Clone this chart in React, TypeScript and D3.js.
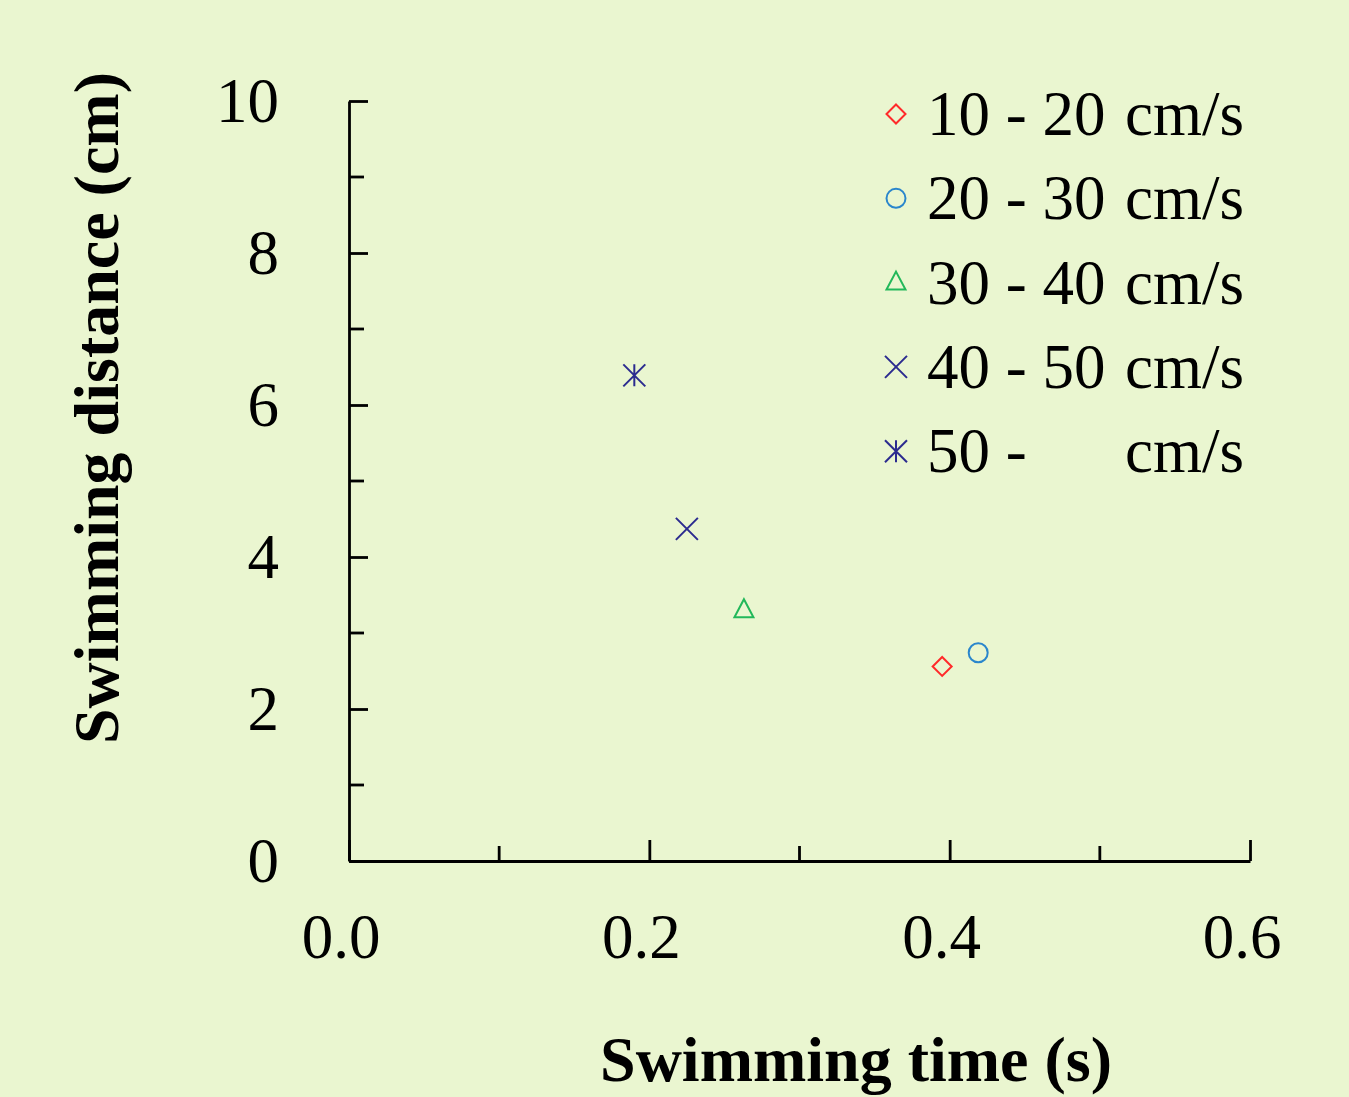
import React, { useEffect, useRef } from 'react';
import * as d3 from 'd3';

// speed classes (legend), their markers and colours
const groups = ['10 - 20', '20 - 30', '30 - 40', '40 - 50', '50 - '];
const shapes = ['diamond', 'circle', 'triangle', 'cross', 'asterisk'];
const colors = ['#ff2a2a', '#2a86cc', '#22b85a', '#2b2b8f', '#2b2b8f'];

// one point per speed class: swimming time (s), swimming distance (cm)
const times = [0.395, 0.419, 0.263, 0.225, 0.19];
const distances = [2.56, 2.74, 3.3, 4.37, 6.39];

const xTicks = [0, 0.2, 0.4, 0.6];
const xMinor = [0.1, 0.3, 0.5];
const yTicks = [0, 2, 4, 6, 8, 10];
const yMinor = [1, 3, 5, 7, 9];

const W = 1349;
const H = 1097;
const BG = '#eaf6d0';
const FONT = '"Liberation Serif", "Times New Roman", serif';

// marker outline centred on 0,0
function markerPath(shape: string) {
  const p = d3.path();
  if (shape === 'diamond') {
    const r = 9.5;
    p.moveTo(0, -r); p.lineTo(r, 0); p.lineTo(0, r); p.lineTo(-r, 0); p.closePath();
  } else if (shape === 'circle') {
    p.moveTo(9.5, 0); p.arc(0, 0, 9.5, 0, Math.PI * 2);
  } else if (shape === 'triangle') {
    p.moveTo(0, -11); p.lineTo(9.5, 7); p.lineTo(-9.5, 7); p.closePath();
  } else if (shape === 'cross') {
    const r = 11;
    p.moveTo(-r, -r); p.lineTo(r, r); p.moveTo(r, -r); p.lineTo(-r, r);
  } else {
    const r = 11;
    p.moveTo(-r, -r); p.lineTo(r, r); p.moveTo(r, -r); p.lineTo(-r, r);
    p.moveTo(0, -r); p.lineTo(0, r);
  }
  return p.toString();
}

const App = () => {
  const svgRef = useRef<SVGSVGElement>(null);

  useEffect(() => {
    const svg = d3.select(svgRef.current);
    svg.selectAll('*').remove();

    svg.append('rect').attr('width', W).attr('height', H).attr('fill', BG);

    const xScale = d3.scaleLinear().domain([0, 0.6]).range([349, 1250]);
    const yScale = d3.scaleLinear().domain([0, 10]).range([861, 101]);

    // y axis, ticks pointing inward
    const yAxis = svg.append('g')
      .attr('transform', `translate(${xScale(0)},0)`)
      .call(d3.axisLeft(yScale).tickValues(yTicks).tickSizeInner(-19).tickSizeOuter(0).tickFormat(() => ''));
    yAxis.selectAll('line, path').attr('stroke', '#000').attr('stroke-width', 2.8);
    yAxis.selectAll('.minor')
      .data(yMinor)
      .enter()
      .append('line')
      .attr('x1', 0)
      .attr('x2', 15)
      .attr('y1', d => yScale(d))
      .attr('y2', d => yScale(d))
      .attr('stroke', '#000')
      .attr('stroke-width', 2.8);

    // x axis, ticks pointing inward
    const xAxis = svg.append('g')
      .attr('transform', `translate(0,${yScale(0)})`)
      .call(d3.axisBottom(xScale).tickValues(xTicks).tickSizeInner(-21).tickSizeOuter(0).tickFormat(() => ''));
    xAxis.selectAll('line, path').attr('stroke', '#000').attr('stroke-width', 2.8);
    xAxis.selectAll('.minor')
      .data(xMinor)
      .enter()
      .append('line')
      .attr('x1', d => xScale(d))
      .attr('x2', d => xScale(d))
      .attr('y1', 0)
      .attr('y2', -15)
      .attr('stroke', '#000')
      .attr('stroke-width', 2.8);

    // tick labels
    svg.append('g')
      .selectAll('text')
      .data(yTicks)
      .enter()
      .append('text')
      .attr('x', 279)
      .attr('y', d => yScale(d) + 21)
      .attr('text-anchor', 'end')
      .style('font-family', FONT)
      .style('font-size', '63px')
      .text(d => d);

    svg.append('g')
      .selectAll('text')
      .data(xTicks)
      .enter()
      .append('text')
      .attr('x', d => xScale(d) - 8)
      .attr('y', 958)
      .attr('text-anchor', 'middle')
      .style('font-family', FONT)
      .style('font-size', '63px')
      .text(d => d.toFixed(1));

    // axis titles
    svg.append('text')
      .attr('x', 856)
      .attr('y', 1081)
      .attr('text-anchor', 'middle')
      .style('font-family', FONT)
      .style('font-weight', 'bold')
      .style('font-size', '64px')
      .text('Swimming time (s)');

    svg.append('text')
      .attr('transform', 'translate(118,408) rotate(-90)')
      .attr('text-anchor', 'middle')
      .style('font-family', FONT)
      .style('font-weight', 'bold')
      .style('font-size', '64px')
      .text('Swimming distance (cm)');

    // data points
    svg.append('g')
      .selectAll('path')
      .data(times)
      .enter()
      .append('path')
      .attr('transform', (d, i) => `translate(${xScale(d)},${yScale(distances[i])})`)
      .attr('d', (d, i) => markerPath(shapes[i]))
      .attr('fill', 'none')
      .attr('stroke', (d, i) => colors[i])
      .attr('stroke-width', 2);

    // legend
    const legend = svg.append('g')
      .selectAll('g')
      .data(groups)
      .enter()
      .append('g')
      .attr('transform', (d, i) => `translate(0,${114 + i * 84.3})`);

    legend.append('path')
      .attr('transform', 'translate(896,0)')
      .attr('d', (d, i) => markerPath(shapes[i]))
      .attr('fill', 'none')
      .attr('stroke', (d, i) => colors[i])
      .attr('stroke-width', 2);

    legend.append('text')
      .attr('x', 927)
      .attr('y', 21)
      .style('font-family', FONT)
      .style('font-size', '63px')
      .text(d => d);

    legend.append('text')
      .attr('x', 1244)
      .attr('y', 21)
      .attr('text-anchor', 'end')
      .style('font-family', FONT)
      .style('font-size', '63px')
      .text('cm/s');
  }, []);

  return (
    <svg
      ref={svgRef}
      width={W}
      height={H}
      style={{ position: 'absolute', left: 0, top: 0, display: 'block' }}
    />
  );
};

export default App;
